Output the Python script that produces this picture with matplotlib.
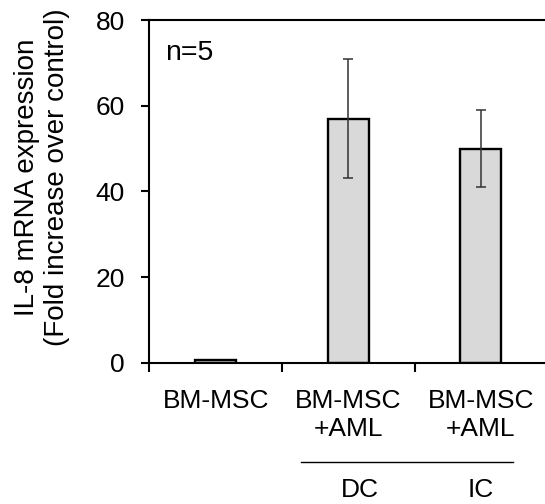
import matplotlib
matplotlib.use('Agg')
import matplotlib.pyplot as plt
import numpy as np

plt.rcParams['font.family'] = ['Liberation Sans', 'DejaVu Sans']

# ─── Data ────────────────────────────────────────────────────────────────────
groups = ['BM-MSC', 'BM-MSC\n+AML', 'BM-MSC\n+AML']
il8_fold = [0.7, 57.0, 50.0]
il8_err = [0.0, 14.0, 9.0]
culture = ['DC', 'IC']
yticks = [0, 20, 40, 60, 80]

# ─── Figure ──────────────────────────────────────────────────────────────────
fig = plt.figure(figsize=(5.45, 5.04), dpi=100, facecolor='white')
ax = fig.add_axes([0.274, 0.2804, 0.730, 0.6799])

x = np.arange(len(groups)) + 0.5
errs = [e if e > 0 else np.nan for e in il8_err]
ax.bar(x, il8_fold, width=0.31, color='#d9d9d9', edgecolor='black',
       linewidth=1.7, zorder=2)
ax.errorbar(x, il8_fold, yerr=errs, fmt='none', ecolor='#333333',
            elinewidth=1.1, capsize=3.9, capthick=1.1, zorder=3)

ax.set_xlim(0, 3)
ax.set_ylim(0, 80)
ax.set_yticks(yticks)
ax.set_xticks([0, 1, 2, 3])
ax.set_xticklabels([])
ax.set_xticks(x, minor=True)
ax.set_xticklabels(groups, minor=True, fontsize=19)
ax.tick_params(axis='x', which='minor', length=0, pad=19)
ax.tick_params(axis='x', which='major', direction='out', length=6.5, width=1.5)
ax.tick_params(axis='y', direction='out', length=5.5, width=1.5, pad=12,
               labelsize=19)

for side in ['left', 'bottom', 'top']:
    ax.spines[side].set_linewidth(1.5)
ax.spines['right'].set_visible(False)

ax.set_ylabel('IL-8 mRNA expression\n(Fold increase over control)',
              fontsize=20)
ax.yaxis.set_label_coords(-0.2, 0.54)

ax.text(0.039, 0.883, 'n=5', transform=ax.transAxes, fontsize=20.5,
        ha='left', va='baseline')

# Grouping bracket under the co-culture bars
ax.plot([0.381, 0.914], [-0.289, -0.289], transform=ax.transAxes,
        color='black', linewidth=1.0, clip_on=False)
ax.text(1.59, -0.392, culture[0], transform=ax.get_xaxis_transform(),
        fontsize=19, ha='center', va='baseline')
ax.text(2.5, -0.392, culture[1], transform=ax.get_xaxis_transform(),
        fontsize=19, ha='center', va='baseline')

plt.savefig('out.png', dpi=100, facecolor='white')
plt.close()
